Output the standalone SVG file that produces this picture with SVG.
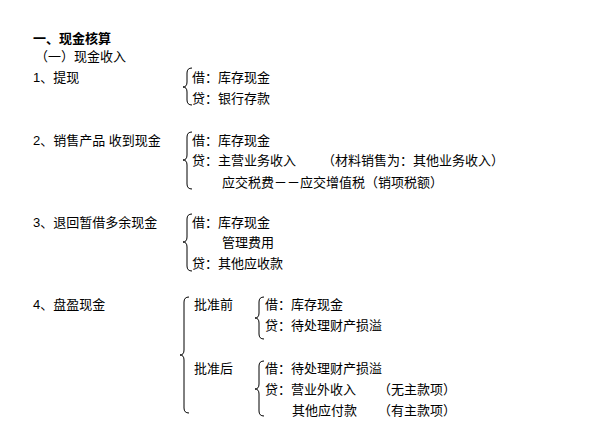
<svg xmlns="http://www.w3.org/2000/svg" width="611" height="435" viewBox="0 0 611 435">
<style>
text{font-family:"Liberation Sans","Noto Sans CJK SC",sans-serif;font-size:13px;fill:#000}
.b{font-weight:bold}
.br{fill:none;stroke:#000;stroke-width:1}
</style>
<rect width="611" height="435" fill="#fff"/>
<g id="header">
<text class="b" x="33" y="43">一、现金核算</text>
<text x="35" y="61">（一）现金收入</text>
</g>
<g id="braces">
<path class="br" d="M192,68 Q187,68 187,73 L187,82 Q187,87 183,87 Q187,87 187,92 L187,100 Q187,105 192,105"/>
<path class="br" d="M192,132 Q187,132 187,137 L187,155 Q187,160 183,160 Q187,160 187,165 L187,184 Q187,189 192,189"/>
<path class="br" d="M192,214 Q187,214 187,219 L187,237 Q187,242 183,242 Q187,242 187,247 L187,266 Q187,271 192,271"/>
<path class="br" d="M189,297 Q184,297 184,302 L184,350 Q184,355 180,355 Q184,355 184,360 L184,408 Q184,413 189,413"/>
<path class="br" d="M264,297 Q259,297 259,302 L259,313 Q259,318 255,318 Q259,318 259,323 L259,334 Q259,339 264,339"/>
<path class="br" d="M264,361 Q259,361 259,366 L259,384 Q259,389 255,389 Q259,389 259,394 L259,411 Q259,416 264,416"/>
</g>
<g id="item1">
<text x="33" y="82">1、提现</text>
<text x="192" y="82">借：库存现金</text>
<text x="192" y="103">贷：银行存款</text>
</g>
<g id="item2">
<text x="33" y="145">2、销售产品  收到现金</text>
<text x="192" y="145">借：库存现金</text>
<text x="192" y="165">贷：主营业务收入</text>
<text x="322" y="165">（材料销售为：其他业务收入）</text>
<text x="222" y="187">应交税费－－应交增值税（销项税额）</text>
</g>
<g id="item3">
<text x="33" y="227">3、退回暂借多余现金</text>
<text x="192" y="227">借：库存现金</text>
<text x="222" y="247">管理费用</text>
<text x="192" y="268">贷：其他应收款</text>
</g>
<g id="item4">
<text x="33" y="309">4、盘盈现金</text>
<text x="194" y="309">批准前</text>
<text x="265" y="309">借：库存现金</text>
<text x="265" y="330">贷：待处理财产损溢</text>
<text x="194" y="373">批准后</text>
<text x="265" y="373">借：待处理财产损溢</text>
<text x="265" y="394">贷：营业外收入</text>
<text x="378" y="394">（无主款项）</text>
<text x="292" y="415">其他应付款</text>
<text x="378" y="415">（有主款项）</text>
</g>
</svg>
